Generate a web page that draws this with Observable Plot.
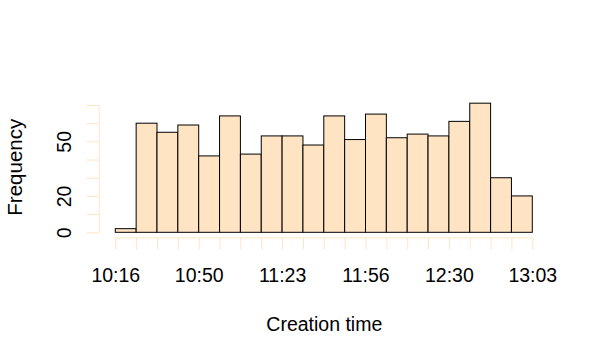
<!DOCTYPE html>
<html><head><meta charset="utf-8">
<script src="https://cdn.jsdelivr.net/npm/d3@7"></script>
<script src="https://cdn.jsdelivr.net/npm/@observablehq/plot@0.6"></script>
<style>body{margin:0;background:#fff;} svg{display:block;}</style>
</head><body><div id="chart"></div>
<script>
// Histogram counts per bin (20 equal bins from 10:16 to 13:03)
const counts = [2, 60, 55, 59, 42, 64, 43, 53, 53, 48, 64, 51, 65, 52, 54, 53, 61, 71, 30, 20];
// Labels shown at every 4th break
const tickLabels = ["10:16", "10:50", "11:23", "11:56", "12:30", "13:03"];
const yTicks = [0, 10, 20, 30, 40, 50, 60, 70];
const yTickLabels = [0, 20, 50];
const xTitle = "Creation time";
const yTitle = "Frequency";

const bins = counts.map((c, i) => ({x1: i, x2: i + 1, count: c}));
const breaks = d3.range(counts.length + 1);
const labelEvery = counts.length / (tickLabels.length - 1);
const maxCount = d3.max(counts);

const font = "'Liberation Sans', Arial, Helvetica, sans-serif";

const chart = Plot.plot({
  width: 600,
  height: 360,
  marginLeft: 98.6,
  marginRight: 51,
  marginTop: 98,
  marginBottom: 122.5,
  style: {fontFamily: font, fontSize: "19.5px", background: "white", color: "black"},
  x: {domain: [0, counts.length], range: [115.3, 532.3], label: null},
  y: {domain: [0, 70], range: [232.3, 105], label: null},
  marks: [
    Plot.rectY(bins, {x1: "x1", x2: "x2", y: "count", fill: "bisque", stroke: "black", strokeWidth: 1, inset: 0}),
    // axis lines (R style: span first to last tick, placed at plot-region edge)
    Plot.ruleY([-0.04 * maxCount], {x1: 0, x2: counts.length, stroke: "bisque", strokeWidth: 1}),
    Plot.ruleX([-0.04 * counts.length], {y1: 0, y2: 70, stroke: "bisque", strokeWidth: 1}),
    Plot.axisX(breaks, {
      anchor: "bottom", tickSize: 12, tickPadding: 18, stroke: "bisque", fill: "black",
      tickFormat: d => d % labelEvery === 0 ? tickLabels[d / labelEvery] : "",
      label: null, fontSize: 19.5
    }),
    Plot.axisY(yTicks, {anchor: "left", tickSize: 12, stroke: "bisque", tickFormat: () => "", label: null}),
    Plot.text(yTickLabels, {y: d => d, frameAnchor: "left", dx: -28, rotate: -90, textAnchor: "middle", lineAnchor: "bottom", fill: "black", fontSize: 19.5}),
    Plot.text([yTitle], {frameAnchor: "left", dx: -77.5, dy: -1, rotate: -90, textAnchor: "middle", lineAnchor: "bottom", fill: "black", fontSize: 20.5}),
    Plot.text([xTitle], {frameAnchor: "bottom", dy: 92.5, textAnchor: "middle", lineAnchor: "bottom", fill: "black", fontSize: 19.5})
  ]
});
document.getElementById("chart").appendChild(chart);
</script>
</body></html>
